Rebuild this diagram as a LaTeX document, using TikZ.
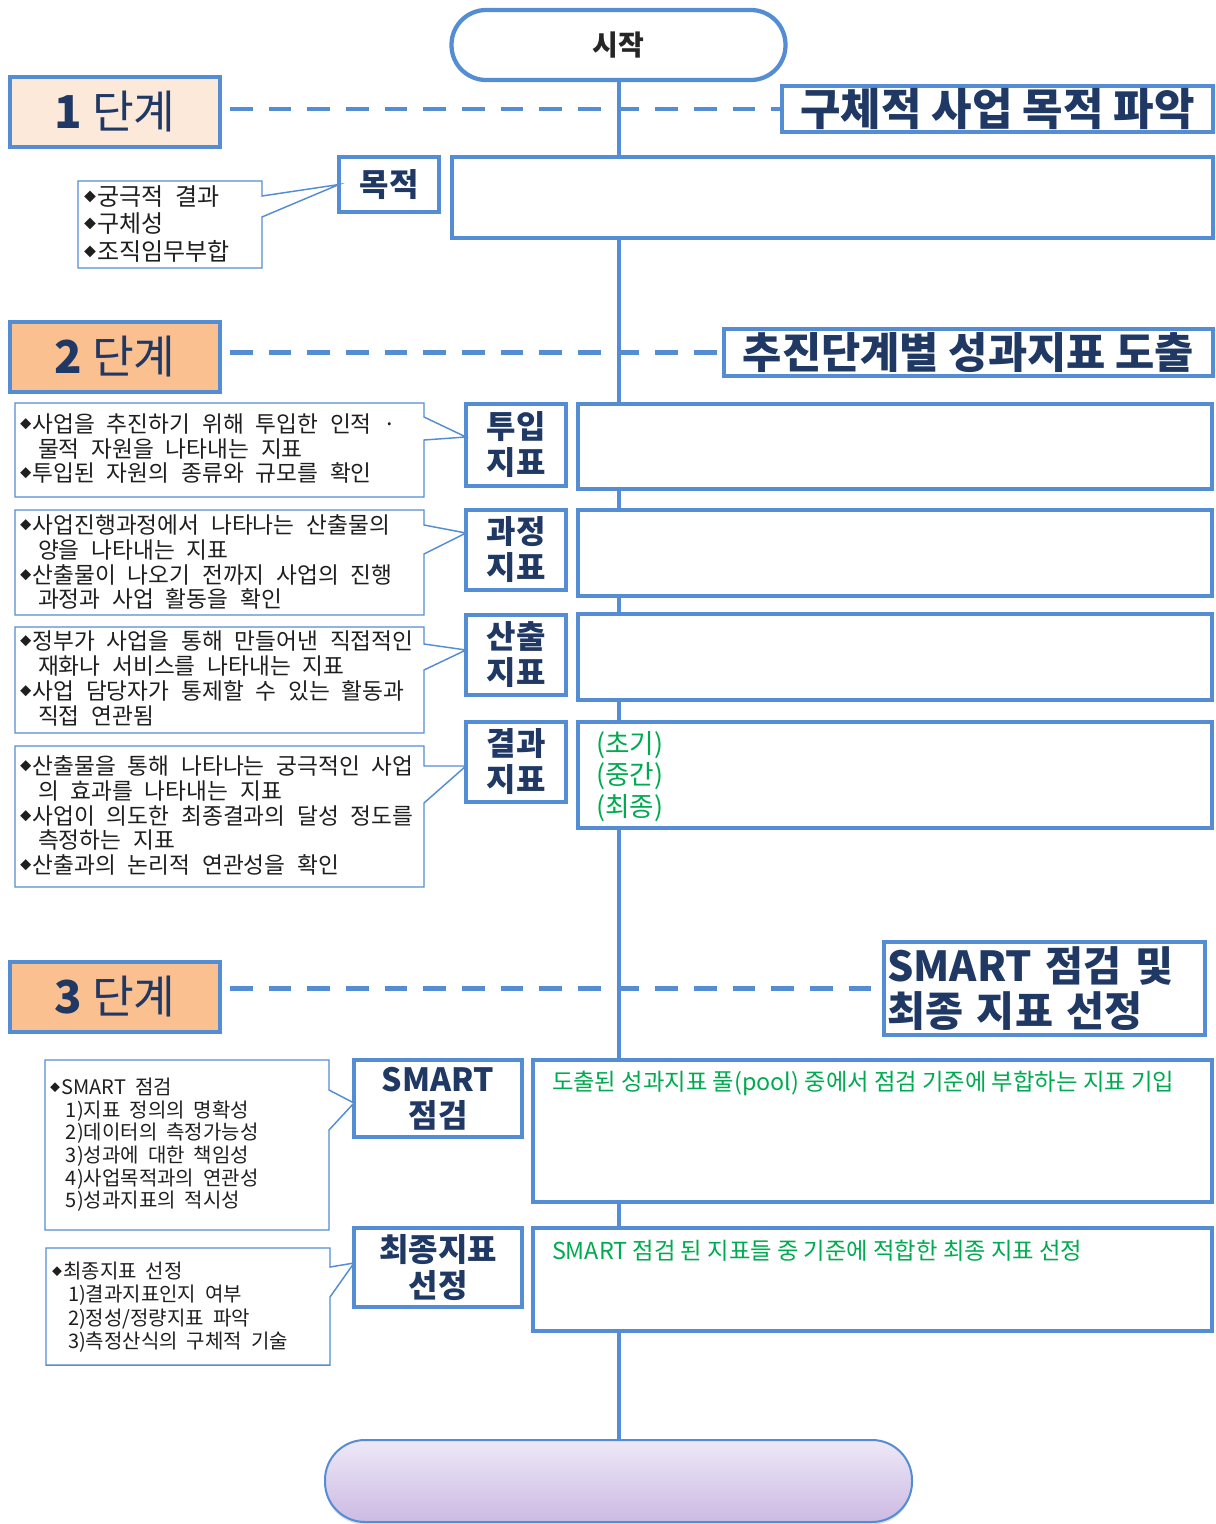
\documentclass[tikz,border=0pt]{standalone}
\usepackage{fontspec}
\newfontfamily\kr{Noto Sans CJK KR}
\usetikzlibrary{shadows}
\definecolor{bl}{RGB}{84,141,212}
\definecolor{navy}{RGB}{31,56,100}
\definecolor{grn}{RGB}{0,170,80}
\definecolor{pka}{RGB}{253,233,217}
\definecolor{pkb}{RGB}{250,192,144}
\definecolor{lavt}{RGB}{238,232,247}
\definecolor{lavb}{RGB}{204,186,227}
\newcommand\mybl{\raisebox{0.3ex}{\scalebox{0.5}{◆}}\hspace{1pt}}
\newcommand\myind{\hspace*{13.5pt}}
\newcommand\mysind{\hspace*{12pt}}
\newcommand\txtlines[6]{\foreach \t [count=\i] in {#6} {\node[#1, anchor=west] (#2-\i) at (#3,{#4+(\i-1)*#5}) {\t};}}
\begin{document}
\begin{tikzpicture}[x=0.75pt, y=-0.75pt,
  every node/.style={inner sep=0pt, outer sep=0pt},
  wh/.style 2 args={minimum width=#1*0.75pt, minimum height=#2*0.75pt},
  spine/.style={draw=bl, line width=3pt},
  dsh/.style={draw=bl, line width=3.7pt, dash pattern=on 17pt off 12pt},
  term/.style={draw=bl, line width=3.2pt, fill=white, rounded corners=26pt, text=black!85, font={\kr\bfseries\fontsize{21pt}{21pt}\selectfont}},
  stg/.style={draw=bl, line width=3.6pt, wh={210}{70}, text=navy, font={\kr\fontsize{34pt}{34pt}\selectfont}},
  hd/.style={draw=bl, line width=3.2pt, fill=white, text=navy, font={\kr\bfseries\fontsize{33pt}{33pt}\selectfont}},
  lb/.style={draw=bl, line width=3.4pt, fill=white, text=navy, align=center, font={\kr\bfseries\fontsize{24pt}{27pt}\selectfont}},
  rb/.style={draw=bl, line width=3.4pt, fill=white},
  co/.style={draw=bl, line width=1.1pt, fill=white, line join=miter},
  cal/.style={text=black!88, font={\kr\fontsize{17pt}{18pt}\selectfont\spaceskip=0.52em\relax}, text height=13.5pt, text depth=2pt},
  calz/.style={text=black!88, font={\kr\fontsize{18pt}{18pt}\selectfont\spaceskip=0.5em\relax}, text height=14pt, text depth=2pt},
  cals/.style={text=black!88, font={\kr\fontsize{15pt}{16pt}\selectfont\spaceskip=0.45em\relax}, text height=12pt, text depth=2pt},
  grt/.style={text=grn, font={\kr\fontsize{17.5pt}{17.5pt}\selectfont}},
  grb/.style={text=grn, font={\kr\fontsize{20pt}{20pt}\selectfont}, text height=15.5pt, text depth=3.5pt}
]
\useasboundingbox (0,0) rectangle (1215,1524);

% terminals and spine
\node[term, wh={334}{70}] (start) at (618.5,45) {시작};
\node[draw=bl, line width=1.5pt, wh={587}{82}, rounded corners=30pt, top color=lavt, bottom color=lavb,
      drop shadow={opacity=0.25, shadow xshift=0pt, shadow yshift=-2pt}] (end) at (618.5,1481) {};
\draw[spine] (start.south) -- (end.north);

% stage 1
\node[stg, fill=pka] (s1) at (115,112) {{\bfseries 1} 단계};
\node[hd, wh={431}{46}] (h1) at (997.5,109) {구체적 사업 목적 파악};
\draw[dsh, shorten <=7.5pt] (s1.east |- h1.west) -- (h1.west);
\node[lb, wh={100}{55}] (mok) at (389,184.5) {목적};
\node[rb, wh={761}{81}] (mokb) at (832.5,197.5) {};

% stage 2
\node[stg, fill=pkb] (s2) at (115,357) {{\bfseries 2} 단계};
\node[hd, wh={489}{47}, font={\kr\bfseries\fontsize{32pt}{32pt}\selectfont}] (h2) at (968.5,352.5) {추진단계별 성과지표 도출};
\draw[dsh, shorten <=7.5pt] (s2.east |- h2.west) -- (h2.west);

\node[lb, wh={100}{82}] (inl) at (516,445) {투입\\지표};
\node[rb, wh={634}{85}] (inb) at (895,446.5) {};
\node[lb, wh={100}{80}] (prl) at (516,550) {과정\\지표};
\node[rb, wh={634}{86}] (prb) at (895,553) {};
\node[lb, wh={100}{80}] (oul) at (516,655) {산출\\지표};
\node[rb, wh={634}{86}] (oub) at (895,657) {};
\node[lb, wh={100}{80}] (rel) at (516,762) {결과\\지표};
\node[rb, wh={634}{106}] (reb) at (895,775) {};
\txtlines{grb}{rt}{596}{745}{31.5}{(초기),(중간),(최종)}

% stage 3
\node[stg, fill=pkb] (s3) at (115,997) {{\bfseries 3} 단계};
\node[hd, wh={321}{93}, inner xsep=2pt, text width=236pt, align=left,
      font={\kr\bfseries\fontsize{31pt}{34pt}\selectfont}] (h3) at (1044.5,988.5) {SMART 점검 및\\최종 지표 선정};
\draw[dsh, shorten <=7.5pt] (s3.east |- h3.west) -- (h3.west);

\node[lb, wh={168}{77}] (sml) at (438,1098.5) {SMART\\점검};
\node[rb, wh={679}{142}] (smb) at (872.5,1131) {};
\node[grt, anchor=west] (smt) at (552,1083) {도출된 성과지표 풀(pool) 중에서 점검 기준에 부합하는 지표 기입};
\node[lb, wh={168}{79}] (fil) at (438,1267.5) {최종지표\\선정};
\node[rb, wh={679}{103}] (fib) at (872.5,1279.5) {};
\node[grt, anchor=west] (fit) at (552,1251) {SMART 점검 된 지표들 중 기준에 적합한 최종 지표 선정};

% callouts
\draw[co] (78,181) -- (262,181) -- (262,196) -- (mok.west) -- (262,217) -- (262,268) -- (78,268) -- cycle;
\txtlines{calz}{c0}{84}{197}{27.5}{\mybl 궁극적 결과,\mybl 구체성,\mybl 조직임무부합}

\draw[co] (15,403) -- (424,403) -- (424,417) -- (inl.west |- 0,437) -- (424,440) -- (424,497) -- (15,497) -- cycle;
\txtlines{cal}{c1}{20}{425}{24.5}{\mybl 사업을 추진하기 위해 투입한 인적 ·,\myind 물적 자원을 나타내는 지표,\mybl 투입된 자원의 종류와 규모를 확인}

\draw[co] (15,510) -- (424,510) -- (424,525) -- (prl.west |- 0,533) -- (424,554) -- (424,615) -- (15,615) -- cycle;
\txtlines{cal}{c2}{20}{526}{24.7}{\mybl 사업진행과정에서 나타나는 산출물의,\myind 양을 나타내는 지표,\mybl 산출물이 나오기 전까지 사업의 진행,\myind 과정과 사업 활동을 확인}

\draw[co] (15,627) -- (424,627) -- (424,644) -- (oul.west |- 0,650) -- (424,670) -- (424,733) -- (15,733) -- cycle;
\txtlines{cal}{c3}{20}{642}{25}{\mybl 정부가 사업을 통해 만들어낸 직접적인,\myind 재화나 서비스를 나타내는 지표,\mybl 사업 담당자가 통제할 수 있는 활동과,\myind 직접 연관됨}

\draw[co] (15,746) -- (424,746) -- (424,766) -- (rel.west |- 0,766) -- (424,803) -- (424,887) -- (15,887) -- cycle;
\txtlines{cal}{c4}{20}{767}{24.75}{\mybl 산출물을 통해 나타나는 궁극적인 사업,\myind 의 효과를 나타내는 지표,\mybl 사업이 의도한 최종결과의 달성 정도를,\myind 측정하는 지표,\mybl 산출과의 논리적 연관성을 확인}

\draw[co] (45,1060) -- (329,1060) -- (329,1090) -- (sml.west |- 0,1103) -- (329,1130) -- (329,1230) -- (45,1230) -- cycle;
\txtlines{cals}{c5}{50}{1088}{22.6}{\mybl SMART 점검,\mysind 1)지표 정의의 명확성,\mysind 2)데이터의 측정가능성,\mysind 3)성과에 대한 책임성,\mysind 4)사업목적과의 연관성,\mysind 5)성과지표의 적시성}

\draw[co] (46,1248) -- (330,1248) -- (330,1267) -- (fil.west |- 0,1263) -- (330,1297) -- (330,1365) -- (46,1365) -- cycle;
\txtlines{cals}{c6}{52}{1272}{23.3}{\mybl 최종지표 선정,\mysind 1)결과지표인지 여부,{\mysind 2)정성/정량지표 파악},\mysind 3)측정산식의 구체적 기술}
\end{tikzpicture}
\end{document}
